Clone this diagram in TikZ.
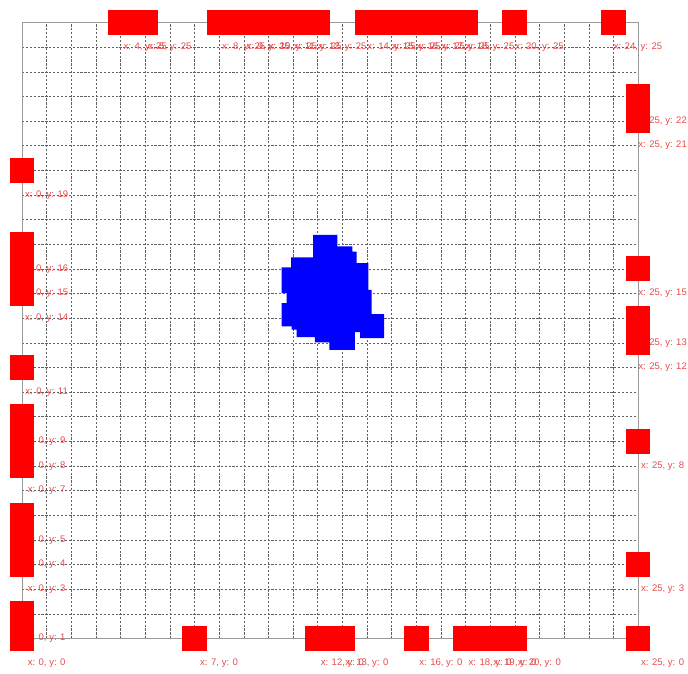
\documentclass[tikz,border=0pt]{standalone}
\usepackage{fontspec}
\setmainfont{Liberation Sans}
\definecolor{cellred}{HTML}{FF0000}
\definecolor{tagred}{HTML}{E84A4A}
\definecolor{blobblue}{HTML}{0000FF}
\definecolor{gridgray}{HTML}{606060}
\definecolor{framegray}{HTML}{9A9A9A}
\begin{document}
\begin{tikzpicture}[
    x=1cm,y=1cm,
    cell/.style   = {rectangle,fill=cellred,minimum size=1cm,inner sep=0pt},
    tag/.style    = {font=\fontsize{11}{13}\selectfont,text=tagred,inner sep=0pt},
    gridln/.style = {gridgray,line width=0.45pt,dash pattern=on 2.5pt off 2pt},
    border/.style = {framegray,line width=1pt},
  ]
  \useasboundingbox (-0.893,-1.41) rectangle (27.03,25.91);

  \def\redcells{0/0,7/0,12/0,13/0,16/0,18/0,19/0,20/0,25/0,
                0/1,0/3,0/4,0/5,0/7,0/8,0/9,0/11,0/14,0/15,0/16,0/19,
                4/25,5/25,8/25,9/25,10/25,11/25,12/25,14/25,15/25,16/25,
                17/25,18/25,20/25,24/25,
                25/3,25/8,25/12,25/13,25/15,25/21,25/22}

  \foreach \k in {1,...,24} {
    \draw[gridln] (\k,0) -- (\k,25);
    \draw[gridln] (0,\k) -- (25,\k);
  }
  \draw[border] (0,0) rectangle (25,25);

  % labels first, the squares cover them
  \foreach \i/\j in \redcells
    \node[tag] (t-\i-\j) at ({\i+1},{\j-1}) {x: \i, y: \j};
  \foreach \i/\j in \redcells
    \node[cell] (c-\i-\j) at (\i,\j) {};

  \fill[blobblue] (11.82,16.38) -- (12.80,16.38) -- (12.80,15.91) -- (13.41,15.91)
    -- (13.41,15.70) -- (13.58,15.70) -- (13.58,15.23) -- (14.06,15.23)
    -- (14.06,14.15) -- (14.19,14.15) -- (14.19,13.16) -- (14.70,13.16)
    -- (14.70,12.19) -- (13.72,12.19) -- (13.72,12.43) -- (13.51,12.43)
    -- (13.51,11.71) -- (12.47,11.71) -- (12.47,12.01) -- (11.89,12.01)
    -- (11.89,12.23) -- (11.15,12.23) -- (11.15,12.53) -- (10.94,12.53)
    -- (10.94,12.66) -- (10.54,12.66) -- (10.54,13.61) -- (10.74,13.61)
    -- (10.74,14.01) -- (10.54,14.01) -- (10.54,15.06) -- (10.92,15.06)
    -- (10.92,15.46) -- (11.82,15.46) -- cycle;
\end{tikzpicture}
\end{document}
